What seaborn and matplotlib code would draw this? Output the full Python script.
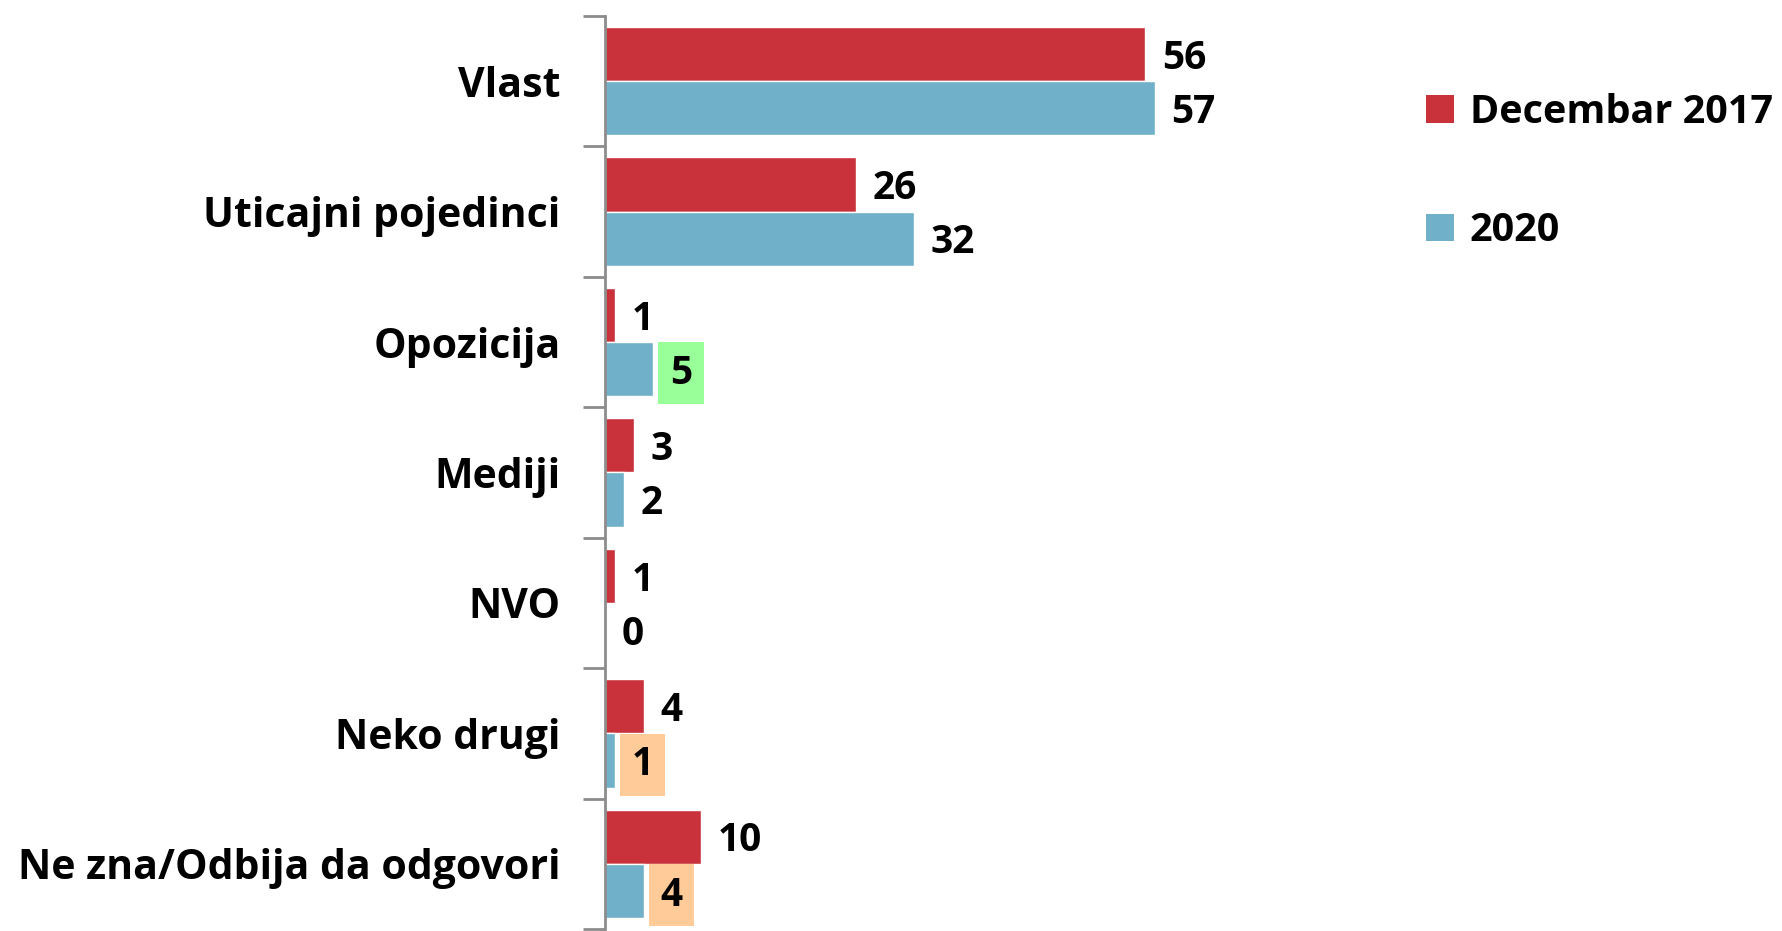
import pandas as pd
import seaborn as sns
import matplotlib.pyplot as plt
from matplotlib.patches import Patch

categories = ['Vlast', 'Uticajni pojedinci', 'Opozicija', 'Mediji', 'NVO',
              'Neko drugi', 'Ne zna/Odbija da odgovori']
dec_2017 = [56, 26, 1, 3, 1, 4, 10]
y_2020 = [57, 32, 5, 2, 0, 1, 4]
series = ['Decembar 2017', '2020']
colors = ['#C9323B', '#70B0C8']

# highlighted labels of the 2020 series: category -> box colour
highlights = {'Opozicija': '#99FF99', 'Neko drugi': '#FFCC99',
              'Ne zna/Odbija da odgovori': '#FFCC99'}

df = pd.DataFrame({
    'kategorija': categories * 2,
    'vrednost': dec_2017 + y_2020,
    'serija': [series[0]] * len(categories) + [series[1]] * len(categories),
})

sns.set_style('white')
plt.rcParams['font.family'] = ['Open Sans', 'DejaVu Sans']
plt.rcParams['text.color'] = 'black'
plt.rcParams['ytick.color'] = 'black'

fig = plt.figure(figsize=(17.82, 9.31), dpi=100)
ax = fig.add_axes([0.3395, 0.002, 0.433, 0.981])

sns.barplot(data=df, y='kategorija', x='vrednost', hue='serija',
            order=categories, hue_order=series, palette=colors,
            orient='h', width=0.83, saturation=1, ax=ax, legend=False)

ax.set_xlim(0, 80)
ax.set_ylim(len(categories) - 0.5, -0.5)
ax.set_xlabel('')
ax.set_ylabel('')
ax.set_xticks([])

for s in ['top', 'right', 'bottom']:
    ax.spines[s].set_visible(False)
ax.spines['left'].set_color('#8C8C8C')
ax.spines['left'].set_linewidth(2)

# Excel-style tick marks between categories
ax.set_yticks(range(len(categories)))
ax.set_yticklabels(categories, fontsize=29.5, fontweight='bold', color='black')
ax.tick_params(axis='y', which='major', length=0, pad=32)
ax.set_yticks([i - 0.5 for i in range(len(categories) + 1)], minor=True)
ax.tick_params(axis='y', which='minor', left=True, length=16, width=2,
               color='#8C8C8C')

for i, cont in enumerate(ax.containers):
    texts = ax.bar_label(cont, padding=12, fontsize=28, fontweight='bold',
                         color='black')
    for t in texts:
        t.xyann = (12, -3)
    if i == 1:
        for cat, t in zip(categories, texts):
            if cat in highlights:
                t.set_bbox(dict(facecolor=highlights[cat], edgecolor='none',
                                boxstyle='square,pad=0.3'))

handles = [Patch(facecolor=c, edgecolor='none') for c in colors]
fig.legend(handles, series, loc='upper left', bbox_to_anchor=(0.8003, 0.9),
           frameon=False, prop={'size': 28.5, 'weight': 'bold'},
           borderaxespad=0, borderpad=0,
           handlelength=0.7, handleheight=0.7, handletextpad=0.4,
           labelspacing=2.0)

fig.savefig('out.png', dpi=100)
